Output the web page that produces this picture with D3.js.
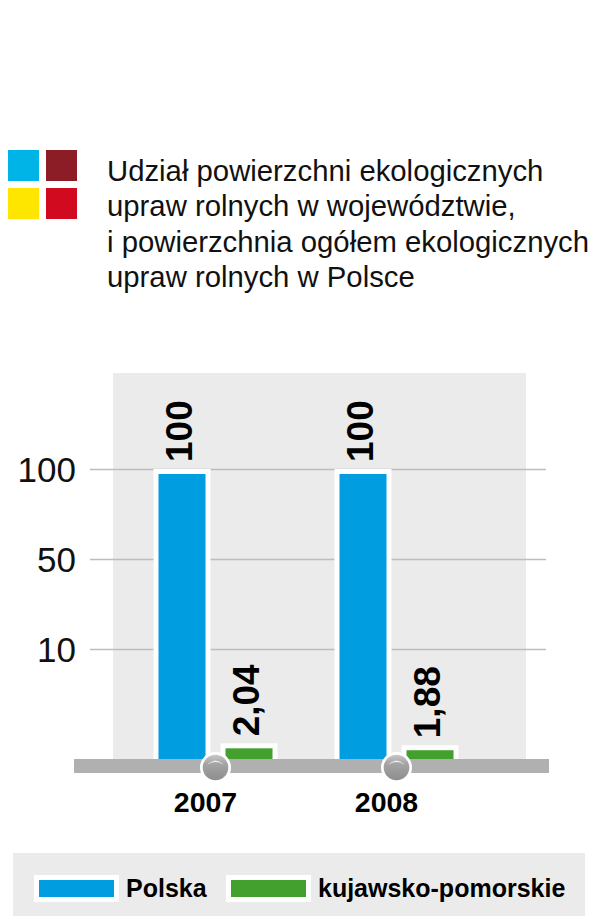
<!DOCTYPE html>
<html>
<head>
<meta charset="utf-8">
<script src="https://cdn.jsdelivr.net/npm/d3@7"></script>
<style>
html,body{margin:0;padding:0;background:#fff;}
svg{display:block;font-family:"Liberation Sans",Arial,Helvetica,sans-serif;}
</style>
</head>
<body>
<svg id="chart" width="593" height="916"></svg>
<script>
// ---- data ----
const years = ["2007", "2008"];
const seriesNames = ["Polska", "kujawsko-pomorskie"];
const polska = [100, 100];
const kujawsko = [2.04, 1.88];
const yTicks = [10, 50, 100];
const yDomain = [0, 10, 50, 100];
const titleLines = [
  "Udział powierzchni ekologicznych",
  "upraw rolnych w województwie,",
  "i powierzchnia ogółem ekologicznych",
  "upraw rolnych w Polsce"
];
const seriesColors = ["#009ee0", "#43a02f"];
const logoColors = ["#00b4e8", "#8c1c25", "#ffe600", "#d10a1f"];

const svg = d3.select("#chart");
const locale = d3.formatLocale({decimal: ",", thousands: " ", grouping: [3], currency: ["", " zł"]});
const fmt = v => Number.isInteger(v) ? String(v) : locale.format(".2f")(v);

// ---- header logo ----
const logo = svg.append("g");
logoColors.forEach((c, i) => {
  logo.append("rect")
    .attr("x", 8 + (i % 2) * 38)
    .attr("y", 150 + Math.floor(i / 2) * 38)
    .attr("width", 31).attr("height", 31)
    .attr("fill", c);
});

// ---- title ----
const title = svg.append("text")
  .attr("x", 107).attr("y", 181)
  .attr("font-size", 29.3).attr("fill", "#111");
titleLines.forEach((t, i) => {
  title.append("tspan").attr("x", 107).attr("y", 181 + i * 35.3).text(t);
});

// ---- scales ----
const y = d3.scaleLinear().domain(yDomain).range([767.5, 649, 559, 469]);
const x = d3.scalePoint().domain(years).range([215.5, 396.5]);
const xs = d3.scaleBand().domain(seriesNames).range([-62, 62]).paddingInner(0.149);

// plot background
svg.append("rect")
  .attr("x", 113).attr("y", 373)
  .attr("width", 413).attr("height", 386)
  .attr("fill", "#ebebeb");

// y axis with gridlines
const yAxis = d3.axisLeft(y).tickValues(yTicks).tickSize(456).tickPadding(14).tickFormat(d => String(d));
const ag = svg.append("g").attr("transform", "translate(546,0)").call(yAxis);
ag.select(".domain").remove();
ag.selectAll(".tick line").attr("stroke", "#bdbdbd").attr("stroke-width", 1.3);
ag.selectAll(".tick text")
  .attr("font-size", 35).attr("fill", "#111")
  .attr("font-family", "'Liberation Sans',Arial,sans-serif")
  .attr("dy", "0.37em");

// ---- bars ----
const data = [];
years.forEach((yr, i) => {
  data.push({year: yr, s: seriesNames[0], v: polska[i], c: seriesColors[0]});
  data.push({year: yr, s: seriesNames[1], v: kujawsko[i], c: seriesColors[1]});
});
const bw = xs.bandwidth();
const border = 5;
const bars = svg.append("g");
data.forEach(d => {
  const x0 = x(d.year) + xs(d.s);
  bars.append("rect")
    .attr("x", x0).attr("y", y(d.v))
    .attr("width", bw).attr("height", y(0) - y(d.v))
    .attr("fill", "#fff");
  bars.append("rect")
    .attr("x", x0 + border).attr("y", y(d.v) + border)
    .attr("width", bw - 2 * border).attr("height", Math.max(0, y(0) - y(d.v) - border))
    .attr("fill", d.c);
});

// baseline bar
svg.append("rect")
  .attr("x", 74).attr("y", y(0) - 8.5)
  .attr("width", 475).attr("height", 14)
  .attr("fill", "#b0b0b0");

// circles on baseline
const defs = svg.append("defs");
const grad = defs.append("linearGradient").attr("id", "ball")
  .attr("x1", 0).attr("y1", 0).attr("x2", 0).attr("y2", 1);
grad.append("stop").attr("offset", "0%").attr("stop-color", "#c8c8c8");
grad.append("stop").attr("offset", "35%").attr("stop-color", "#a4a4a4");
grad.append("stop").attr("offset", "100%").attr("stop-color", "#8e8e8e");
years.forEach(yr => {
  const cx = x(yr), cy = y(0);
  svg.append("circle").attr("cx", cx).attr("cy", cy).attr("r", 15.5).attr("fill", "#fff");
  svg.append("circle").attr("cx", cx).attr("cy", cy).attr("r", 12.8).attr("fill", "url(#ball)");
  svg.append("path")
    .attr("d", `M${cx - 8},${cy - 3} Q${cx},${cy - 11} ${cx + 8},${cy - 3} Q${cx},${cy - 8} ${cx - 8},${cy - 3}Z`)
    .attr("fill", "#f4f4f4").attr("opacity", 0.9);
});

// value labels (rotated)
data.forEach(d => {
  const cx = x(d.year) + xs(d.s) + bw / 2;
  svg.append("text")
    .attr("transform", `translate(${cx},${y(d.v) - 7}) rotate(-90)`)
    .attr("x", 0).attr("y", 10)
    .attr("font-size", 37).attr("font-weight", "bold").attr("fill", "#000")
    .text(fmt(d.v));
});

// year labels
years.forEach(yr => {
  svg.append("text")
    .attr("x", x(yr) - 10).attr("y", 812)
    .attr("text-anchor", "middle")
    .attr("font-size", 28.5).attr("font-weight", "bold").attr("fill", "#000")
    .text(yr);
});

// ---- legend ----
svg.append("rect").attr("x", 13).attr("y", 853).attr("width", 572).attr("height", 63).attr("fill", "#ebebeb");
const legendX = [34, 226];
seriesNames.forEach((s, i) => {
  const lx = legendX[i];
  svg.append("rect").attr("x", lx).attr("y", 875).attr("width", 85).attr("height", 27).attr("fill", "#fff");
  svg.append("rect").attr("x", lx + 5).attr("y", 880).attr("width", 75).attr("height", 17).attr("fill", seriesColors[i]);
  svg.append("text")
    .attr("x", lx + 92).attr("y", 897)
    .attr("font-size", 25).attr("font-weight", "bold").attr("fill", "#000")
    .text(s);
});
</script>
</body>
</html>
